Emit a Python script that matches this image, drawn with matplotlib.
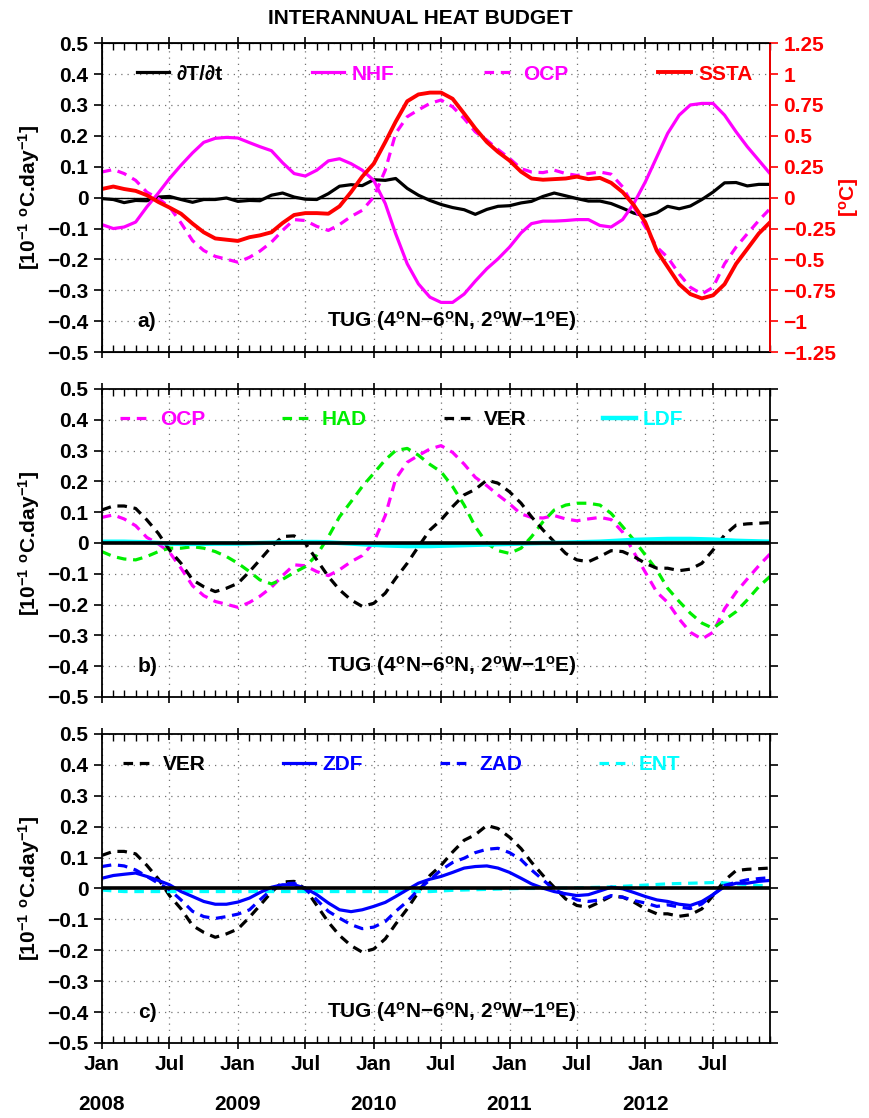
import numpy as np
import pandas as pd
import matplotlib
matplotlib.use("Agg")
import matplotlib.pyplot as plt
import matplotlib.dates as mdates
from matplotlib.ticker import FuncFormatter, MultipleLocator

plt.rcParams["font.family"] = ["Liberation Sans", "DejaVu Sans"]
plt.rcParams["font.weight"] = "bold"
plt.rcParams["axes.labelweight"] = "bold"
plt.rcParams["mathtext.fontset"] = "custom"
plt.rcParams["mathtext.rm"] = "Liberation Sans:bold"
plt.rcParams["mathtext.it"] = "Liberation Sans:bold"
plt.rcParams["mathtext.bf"] = "Liberation Sans:bold"
plt.rcParams["mathtext.default"] = "rm"

# monthly values, Jan 2008 - Dec 2012
months = pd.date_range("2008-01-01", "2012-12-01", freq="MS")
years = ["2008", "2009", "2010", "2011", "2012"]

# panel a  [10^-1 degC/day], SSTA in degC
dTdt = [-0.003, -0.006, -0.016, -0.009, -0.010, 0.002, 0.004, -0.006, -0.015, -0.006,
        -0.006, -0.001, -0.012, -0.009, -0.010, 0.008, 0.015, 0.002, -0.005, -0.006,
        0.013, 0.037, 0.042, 0.039, 0.058, 0.056, 0.062, 0.030, 0.008, -0.009,
        -0.022, -0.032, -0.039, -0.054, -0.038, -0.028, -0.026, -0.017, -0.012, 0.004,
        0.015, 0.006, -0.003, -0.011, -0.011, -0.019, -0.034, -0.050, -0.060, -0.049,
        -0.028, -0.036, -0.027, -0.006, 0.018, 0.048, 0.049, 0.038, 0.043, 0.043]
nhf = [-0.087, -0.100, -0.095, -0.079, -0.030, 0.015, 0.062, 0.105, 0.145, 0.179,
       0.192, 0.195, 0.193, 0.178, 0.165, 0.152, 0.113, 0.078, 0.070, 0.089,
       0.119, 0.126, 0.110, 0.089, 0.056, -0.019, -0.117, -0.214, -0.279, -0.322,
       -0.339, -0.339, -0.312, -0.270, -0.230, -0.198, -0.160, -0.114, -0.084, -0.076,
       -0.076, -0.074, -0.071, -0.071, -0.090, -0.095, -0.071, -0.019, 0.051, 0.132,
       0.208, 0.267, 0.300, 0.305, 0.305, 0.267, 0.213, 0.165, 0.121, 0.078]
ocp = [0.083, 0.091, 0.078, 0.056, 0.018, -0.003, -0.030, -0.082, -0.139, -0.171,
       -0.190, -0.199, -0.209, -0.193, -0.173, -0.144, -0.106, -0.071, -0.074, -0.093,
       -0.106, -0.087, -0.061, -0.041, 0.002, 0.089, 0.208, 0.262, 0.284, 0.305,
       0.316, 0.294, 0.256, 0.213, 0.186, 0.156, 0.127, 0.094, 0.083, 0.081,
       0.089, 0.078, 0.072, 0.078, 0.083, 0.076, 0.035, -0.030, -0.095, -0.160,
       -0.193, -0.247, -0.290, -0.312, -0.290, -0.214, -0.160, -0.117, -0.074, -0.036]
ssta = [0.07, 0.09, 0.07, 0.055, 0.02, -0.035, -0.08, -0.13, -0.21, -0.28,
        -0.33, -0.34, -0.35, -0.32, -0.305, -0.28, -0.205, -0.14, -0.125, -0.125,
        -0.13, -0.07, 0.045, 0.17, 0.275, 0.45, 0.615, 0.78, 0.835, 0.85,
        0.85, 0.80, 0.68, 0.56, 0.45, 0.37, 0.30, 0.21, 0.155, 0.145,
        0.15, 0.155, 0.17, 0.15, 0.16, 0.12, 0.045, -0.06, -0.2, -0.43,
        -0.56, -0.70, -0.78, -0.815, -0.79, -0.70, -0.535, -0.415, -0.29, -0.2]

# panel b
had = [-0.028, -0.044, -0.052, -0.055, -0.044, -0.028, -0.017, -0.017, -0.012, -0.017,
       -0.028, -0.044, -0.066, -0.093, -0.120, -0.133, -0.118, -0.096, -0.077, -0.039,
       0.020, 0.085, 0.134, 0.183, 0.226, 0.270, 0.300, 0.307, 0.285, 0.255,
       0.231, 0.183, 0.123, 0.053, -0.001, -0.025, -0.034, -0.017, 0.020, 0.069,
       0.107, 0.123, 0.129, 0.129, 0.123, 0.096, 0.053, 0.010, -0.039, -0.088,
       -0.147, -0.190, -0.228, -0.260, -0.277, -0.250, -0.223, -0.185, -0.142, -0.109]
ver = [0.107, 0.120, 0.120, 0.112, 0.075, 0.031, -0.023, -0.066, -0.120, -0.142,
       -0.158, -0.147, -0.131, -0.093, -0.055, -0.012, 0.021, 0.023, -0.001, -0.055,
       -0.109, -0.152, -0.185, -0.206, -0.196, -0.163, -0.115, -0.066, -0.012, 0.042,
       0.075, 0.118, 0.156, 0.174, 0.204, 0.194, 0.166, 0.129, 0.085, 0.042,
       0.004, -0.034, -0.055, -0.061, -0.044, -0.025, -0.028, -0.044, -0.066, -0.082,
       -0.082, -0.090, -0.085, -0.066, -0.023, 0.026, 0.058, 0.062, 0.064, 0.066]
ldf = [0.004, 0.004, 0.004, 0.003, 0.002, 0.000, -0.002, -0.003, -0.003, -0.003,
       -0.002, -0.002, -0.002, -0.001, 0.000, 0.001, 0.002, 0.003, 0.003, 0.003,
       0.002, 0.000, -0.002, -0.004, -0.006, -0.008, -0.009, -0.010, -0.010, -0.010,
       -0.009, -0.008, -0.007, -0.006, -0.005, -0.004, -0.003, -0.002, -0.001, 0.000,
       0.000, 0.001, 0.002, 0.003, 0.004, 0.006, 0.008, 0.010, 0.011, 0.012,
       0.013, 0.013, 0.013, 0.012, 0.011, 0.009, 0.007, 0.006, 0.005, 0.004]

# panel c
zdf = [0.033, 0.042, 0.046, 0.050, 0.039, 0.026, 0.012, -0.010, -0.026, -0.042,
       -0.051, -0.051, -0.044, -0.031, -0.013, 0.004, 0.012, 0.012, 0.001, -0.020,
       -0.047, -0.069, -0.075, -0.069, -0.058, -0.045, -0.026, -0.004, 0.017, 0.030,
       0.039, 0.052, 0.066, 0.071, 0.073, 0.066, 0.052, 0.033, 0.015, 0.001,
       -0.010, -0.017, -0.023, -0.020, -0.008, 0.004, -0.001, -0.013, -0.026, -0.037,
       -0.042, -0.051, -0.055, -0.042, -0.020, 0.006, 0.017, 0.017, 0.023, 0.026]
zad = [0.071, 0.077, 0.073, 0.060, 0.039, 0.017, -0.004, -0.037, -0.074, -0.091,
       -0.097, -0.091, -0.083, -0.069, -0.037, -0.004, 0.015, 0.017, -0.002, -0.037,
       -0.074, -0.096, -0.117, -0.130, -0.125, -0.107, -0.074, -0.042, -0.004, 0.028,
       0.060, 0.084, 0.098, 0.116, 0.127, 0.130, 0.116, 0.093, 0.060, 0.028,
       -0.004, -0.020, -0.037, -0.042, -0.037, -0.023, -0.028, -0.039, -0.047, -0.058,
       -0.053, -0.060, -0.065, -0.050, -0.020, 0.010, 0.020, 0.028, 0.032, 0.035]
ent = [-0.005, -0.008, -0.010, -0.010, -0.010, -0.010, -0.010, -0.010, -0.010, -0.010,
       -0.010, -0.010, -0.010, -0.010, -0.010, -0.010, -0.010, -0.010, -0.010, -0.010,
       -0.010, -0.010, -0.010, -0.010, -0.010, -0.010, -0.010, -0.010, -0.010, -0.010,
       -0.008, -0.006, -0.005, -0.004, -0.003, -0.002, -0.001, 0.000, 0.000, 0.000,
       0.001, 0.001, 0.002, 0.003, 0.004, 0.005, 0.007, 0.009, 0.011, 0.013,
       0.015, 0.016, 0.017, 0.018, 0.019, 0.018, 0.015, 0.012, 0.010, 0.009]

MAG, GRN, CYN, BLU, RED = "#ff00ff", "#00ee00", "#00ffff", "#0000ff", "#ff0000"
LW = 2.3
DASH = (3.0, 2.1)
FS = 15
region = "TUG (4$^{o}$N\u22126$^{o}$N, 2$^{o}$W\u22121$^{o}$E)"
ylab = "[10$^{-1}$ $^{o}$C.day$^{-1}$]"


def fmt_val(v, pos):
    s = f"{v:.2f}".rstrip("0").rstrip(".")
    if s in ("0", "-0", ""):
        return "0"
    return s.replace("-", "\u2212")


def fmt_month(x, pos):
    return "Jan" if mdates.num2date(x).month == 1 else "Jul"


def style(ax, letter, bottom=False, right_ticks=True):
    ax.set_xlim(months[0], months[-1])
    ax.set_ylim(-0.5, 0.5)
    ax.yaxis.set_major_locator(MultipleLocator(0.1))
    ax.yaxis.set_major_formatter(FuncFormatter(fmt_val))
    ax.xaxis.set_major_locator(mdates.MonthLocator(bymonth=[1, 7]))
    ax.xaxis.set_minor_locator(mdates.MonthLocator())
    ax.xaxis.set_major_formatter(FuncFormatter(fmt_month))
    ax.grid(True, which="major", color="0.45", linestyle=(0, (1, 4)), lw=0.9)
    ax.tick_params(axis="x", which="major", direction="inout", length=9, width=1.2,
                   top=True, labelsize=FS, labelbottom=bottom, pad=4)
    ax.tick_params(axis="x", which="minor", direction="in", length=5, width=1, top=True)
    ax.tick_params(axis="y", direction="out", length=6, width=1.2, labelsize=FS,
                   right=right_ticks)
    for sp in ax.spines.values():
        sp.set_linewidth(1.3)
    ax.set_ylabel(ylab, fontsize=FS)
    ax.yaxis.set_label_coords(-0.09, 0.5)
    tr = ax.get_yaxis_transform()
    ax.text(0.054, -0.4, letter, transform=tr, fontsize=FS, va="center", ha="left")
    ax.text(0.524, -0.4, region, transform=tr, fontsize=FS, va="center", ha="center")


def add_legend(ax, handles, xc, spacing):
    leg = ax.legend(handles=handles, ncol=4, loc="center", bbox_to_anchor=(xc, 0.9),
                    frameon=False, fontsize=FS, handlelength=1.55, handletextpad=0.35,
                    columnspacing=spacing, borderpad=0, borderaxespad=0)
    for txt, h in zip(leg.get_texts(), handles):
        txt.set_color(h.get_color())


fig = plt.figure(figsize=(8.7, 11.18), dpi=100)
ax_a = fig.add_axes([0.117, 0.685, 0.768, 0.2764])
ax_b = fig.add_axes([0.117, 0.3766, 0.768, 0.2755])
ax_c = fig.add_axes([0.117, 0.0671, 0.768, 0.2764])

fig.text(0.483, 1 - 18 / 1118, "INTERANNUAL HEAT BUDGET", ha="center", va="center",
         fontsize=FS)

# ---- panel a
ax_a.axhline(0, color="black", lw=1.0)
h1, = ax_a.plot(months, dTdt, color="black", lw=LW, label="\u2202T/\u2202t")
h2, = ax_a.plot(months, nhf, color=MAG, lw=LW, label="NHF")
h3, = ax_a.plot(months, ocp, color=MAG, lw=LW, ls="--", dashes=DASH, label="OCP")
style(ax_a, "a)", right_ticks=False)
axr = ax_a.twinx()
h4, = axr.plot(months, ssta, color=RED, lw=2.8, label="SSTA")
axr.set_xlim(months[0], months[-1])
axr.set_ylim(-1.25, 1.25)
axr.yaxis.set_major_locator(MultipleLocator(0.25))
axr.yaxis.set_major_formatter(FuncFormatter(fmt_val))
axr.tick_params(axis="y", colors=RED, labelsize=FS, direction="out", length=6, width=1.2)
axr.spines["right"].set_color(RED)
axr.spines["right"].set_linewidth(1.3)
axr.set_ylabel("[$^{o}$C]", color=RED, fontsize=FS)
axr.yaxis.set_label_coords(1.1, 0.5)
add_legend(axr, [h1, h2, h3, h4], 0.513, 4.3)

# ---- panel b
hb1, = ax_b.plot(months, ocp, color=MAG, lw=LW, ls="--", dashes=DASH, label="OCP")
hb2, = ax_b.plot(months, had, color=GRN, lw=LW, ls="--", dashes=DASH, label="HAD")
hb3, = ax_b.plot(months, ver, color="black", lw=LW, ls="--", dashes=DASH, label="VER")
hb4, = ax_b.plot(months, ldf, color=CYN, lw=3.2, label="LDF")
ax_b.axhline(0, color="black", lw=2.6)
style(ax_b, "b)")
add_legend(ax_b, [hb1, hb2, hb3, hb4], 0.449, 3.7)

# ---- panel c
hc1, = ax_c.plot(months, ver, color="black", lw=LW, ls="--", dashes=DASH, label="VER")
hc4, = ax_c.plot(months, ent, color=CYN, lw=LW, ls="--", dashes=DASH, label="ENT")
hc2, = ax_c.plot(months, zdf, color=BLU, lw=LW, label="ZDF")
hc3, = ax_c.plot(months, zad, color=BLU, lw=LW, ls="--", dashes=DASH, label="ZAD")
ax_c.axhline(0, color="black", lw=2.6)
style(ax_c, "c)", bottom=True)
add_legend(ax_c, [hc1, hc2, hc3, hc4], 0.449, 3.7)
xtr = ax_c.get_xaxis_transform()
for d, yr in zip(months[::12], years):
    ax_c.text(d, -0.2, yr, transform=xtr, ha="center", va="center", fontsize=FS)

fig.savefig("out.png", dpi=100)
